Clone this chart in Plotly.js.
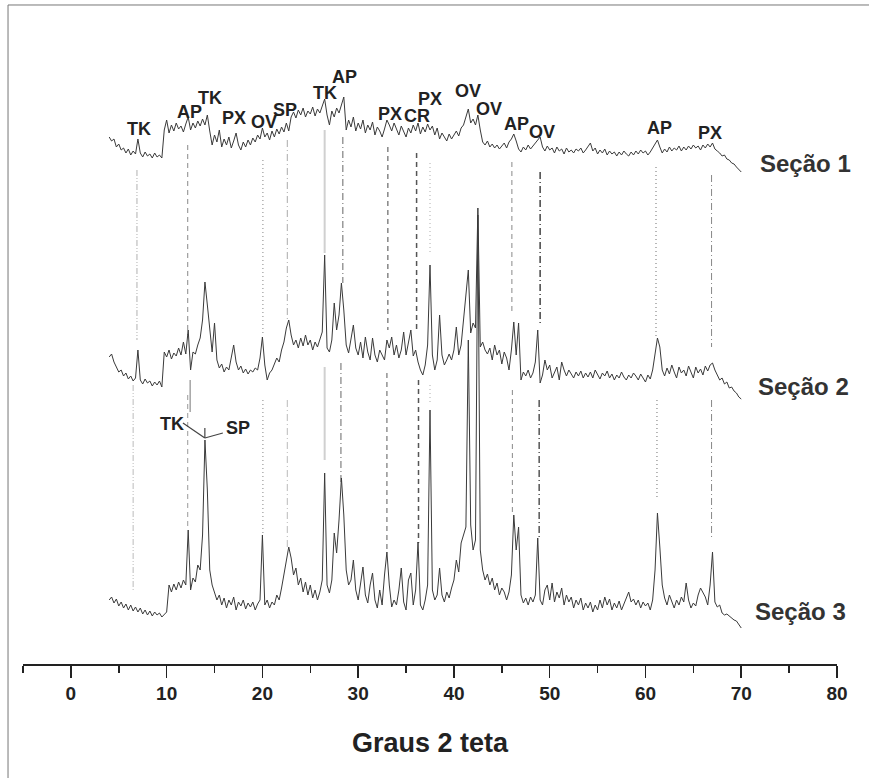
<!DOCTYPE html>
<html>
<head>
<meta charset="utf-8">
<script src="https://cdn.plot.ly/plotly-3.0.1.min.js"></script>
<style>html,body{margin:0;padding:0;background:#fff;}#chart{width:869px;height:778px;}</style>
</head>
<body>
<div id="chart"></div>
<script>
// Sampling grid of the diffractograms (degrees 2-theta)
const twoThetaStart = 4.0;
const twoThetaStep = 0.25;

// Section 1 intensities (arbitrary units), one value per grid step from 4.00 to 70.00
const secao1 = [
38,34,36,28,31,25,27,22,26,20,24,21,36,22,18,23,19,21,17,22,
18,20,17,45,55,42,50,44,52,46,49,43,51,58,45,52,47,54,49,56,
50,60,44,30,40,33,45,28,36,30,38,27,34,42,30,25,33,28,35,30,
37,33,40,36,47,38,42,35,44,38,46,41,48,43,52,44,58,63,57,65,
60,67,58,64,61,68,59,66,62,70,76,60,50,64,58,67,62,70,78,45,
55,48,58,44,52,46,55,42,50,45,53,40,48,44,38,46,55,50,44,52,
46,40,49,43,38,47,42,50,44,52,41,48,43,51,45,49,40,47,36,42,
38,34,41,36,40,44,39,47,50,58,66,52,56,50,60,45,33,30,34,28,
31,27,30,26,29,32,27,33,36,41,34,26,23,28,25,30,26,29,31,35,
38,28,24,29,25,27,22,28,24,26,21,27,23,25,22,26,24,27,22,25,
28,32,24,27,21,25,22,26,20,24,21,23,19,23,20,24,21,19,23,20,
24,21,25,22,24,20,23,27,30,35,28,22,26,23,28,24,27,25,29,24,
28,25,29,26,30,27,29,25,30,27,31,28,32,26,24,22,19,20,16,15,
12,11,8,5,3
];

// Section 2 intensities
const secao2 = [
43,46,38,33,28,30,24,27,21,24,19,22,50,20,16,21,17,19,14,18,
15,19,13,48,43,50,41,47,44,52,45,58,46,70,30,48,46,55,62,80,
118,95,70,48,77,40,32,36,28,33,30,42,55,38,30,34,27,31,26,30,
28,32,30,42,63,35,20,27,30,36,42,38,50,58,72,80,65,55,60,52,
62,54,65,55,60,50,58,53,60,68,145,52,48,60,97,70,85,117,90,55,
47,60,75,52,45,58,42,63,48,40,62,45,38,50,44,40,60,52,63,45,
55,42,50,68,45,58,70,44,50,38,30,25,35,55,135,45,30,40,85,45,
35,40,46,40,50,73,45,55,80,107,130,67,77,72,192,53,58,50,46,52,
40,55,45,50,36,48,42,30,50,78,45,77,20,28,24,30,22,27,38,70,
17,25,40,30,35,22,28,33,20,38,30,24,30,26,22,28,24,29,22,27,
23,28,22,30,25,21,27,24,29,22,26,20,25,22,28,23,20,25,22,27,
24,20,26,22,18,25,21,30,45,62,53,30,24,32,26,35,28,22,33,27,
30,24,34,28,22,33,27,31,25,34,29,35,37,30,24,20,22,16,18,12,
13,9,7,3,1
];

// Section 3 intensities
const secao3 = [
30,33,27,31,24,28,22,26,20,25,19,23,18,22,16,20,15,19,14,18,
15,17,13,16,18,45,38,46,40,48,42,50,45,100,40,52,48,65,60,95,
190,140,60,45,38,30,35,25,32,22,30,25,33,20,28,24,30,21,27,23,
28,20,26,30,95,25,30,22,28,25,35,30,42,55,68,83,72,55,62,45,
52,38,48,35,45,32,40,30,38,50,157,45,37,50,97,77,110,152,115,60,
45,50,70,40,30,45,63,35,27,45,57,30,22,40,25,55,78,45,23,30,
25,40,62,28,20,50,57,25,40,88,25,20,30,45,220,40,30,35,62,35,
28,38,32,42,50,70,58,87,95,103,290,105,80,90,415,80,60,50,56,45,
52,40,47,35,42,38,30,38,55,115,80,103,35,27,32,25,33,28,35,92,
30,25,40,45,30,47,28,38,32,42,25,35,28,33,22,30,25,32,20,27,
22,28,18,25,20,30,22,33,25,31,20,27,22,29,20,26,33,38,28,31,
25,30,22,28,24,27,20,30,60,117,83,45,32,25,35,28,22,30,25,33,
28,47,30,22,27,24,35,42,38,33,25,45,78,28,23,25,17,15,16,14,
12,10,9,5,2
];

const sectionNames = ["Seção 1", "Seção 2", "Seção 3"];
const xTickValues = [0, 10, 20, 30, 40, 50, 60, 70, 80];
const xTitle = "Graus 2 teta";

// Phase labels above section 1 and their 2-theta positions
const phaseLabels = ["TK","AP","TK","PX","OV","SP","TK","AP","PX","CR","PX","OV","OV","AP","OV","AP","PX"];
const phaseLabelX = [7.10,12.43,14.52,17.02,20.16,22.35,26.53,28.62,33.32,36.14,37.49,41.46,43.66,46.58,49.19,61.51,66.74];

// ---------- drawing ----------
const offsets = [489, 264, 34];          // vertical stacking of sections
const labelY = [535,552,566,546,542,554,571,587,550,548,565,573,555,540,532,536,531];

const x = secao1.map((_, i) => +(twoThetaStart + i * twoThetaStep).toFixed(2));
const series = [secao1, secao2, secao3];
const traces = series.map((s, k) => ({
  x: x,
  y: s.map(v => v + offsets[k]),
  type: 'scatter',
  mode: 'lines',
  line: {color: '#3a3a3a', width: 1},
  hoverinfo: 'skip',
  showlegend: false
}));

const DASH = {
  ddd: '6px,2px,1px,2px,1px,2px',
  dash: '5px,4px',
  dot: '1px,3px',
  dashdot: '7px,3px,1px,3px',
  solid: 'solid'
};
// phase marker segments: [2theta, top, bottom, style, color, width]
const segments = [
  [6.9, 494, 324, 'ddd', '#b0b0b0', 1],
  [12.2, 519, 329, 'dash', '#888', 1],
  [20.05, 504, 329, 'dot', '#999', 1.2],
  [22.6, 524, 344, 'dashdot', '#aaa', 1],
  [26.5, 534, 411, 'solid', '#d0d0d0', 2],
  [28.4, 527, 381, 'dashdot', '#666', 1],
  [33.1, 517, 334, 'dash', '#666', 1.2],
  [36.1, 511, 332, 'dash', '#555', 1.5],
  [37.5, 501, 411, 'dot', '#bbb', 1.2],
  [46.05, 502, 351, 'dash', '#888', 1],
  [49.0, 492, 341, 'dashdot', '#444', 1.5],
  [61.1, 497, 327, 'dot', '#888', 1.2],
  [66.9, 489, 317, 'dashdot', '#888', 1],
  [6.5, 279, 74, 'ddd', '#bbb', 1],
  [12.2, 269, 134, 'dash', '#999', 1],
  [12.45, 284, 252, 'solid', '#777', 1],
  [20.05, 264, 129, 'dot', '#999', 1.2],
  [22.6, 264, 116, 'dashdot', '#bbb', 1],
  [26.5, 297, 204, 'solid', '#d0d0d0', 2],
  [28.2, 301, 181, 'dashdot', '#666', 1],
  [33.0, 291, 111, 'dash', '#777', 1.2],
  [36.3, 284, 121, 'dash', '#555', 1.5],
  [37.5, 279, 259, 'dot', '#bbb', 1.2],
  [46.1, 274, 151, 'dash', '#888', 1],
  [48.9, 264, 127, 'dashdot', '#555', 1.5],
  [61.2, 264, 164, 'dot', '#888', 1.2],
  [66.9, 264, 124, 'dashdot', '#888', 1]
];

const shapes = segments.map(s => ({
  type: 'line', xref: 'x', yref: 'y',
  x0: s[0], x1: s[0], y0: s[1], y1: s[2],
  line: {color: s[4], width: s[5], dash: DASH[s[3]]},
  layer: 'below'
}));
// TK / SP pointer on section 3
shapes.push({type:'line', xref:'x', yref:'y', x0:11.70, y0:241, x1:13.99, y1:226, line:{color:'#444', width:1.2}});
shapes.push({type:'line', xref:'x', yref:'y', x0:13.99, y0:226, x1:15.87, y1:231, line:{color:'#444', width:1.2}});
shapes.push({type:'line', xref:'x', yref:'y', x0:13.99, y0:226, x1:13.99, y1:236, line:{color:'#444', width:1.2}});
// figure frame (top and left)
shapes.push({type:'line', xref:'paper', yref:'paper', x0:-0.0184, x1:1.05, y0:1.0233, y1:1.0233, line:{color:'#777', width:1}});
shapes.push({type:'line', xref:'paper', yref:'paper', x0:-0.0184, x1:-0.0184, y0:1.0233, y1:-0.2, line:{color:'#777', width:1}});

const labelFont = {family: 'Liberation Sans, Arial, sans-serif', size: 18, color: '#222', weight: 'bold'};
const annotations = phaseLabels.map((t, i) => ({
  text: t, x: phaseLabelX[i], y: labelY[i], xref: 'x', yref: 'y',
  showarrow: false, font: labelFont, borderpad: 0
}));
annotations.push({text: 'TK', x: 10.55, y: 240, xref:'x', yref:'y', showarrow:false, font: labelFont});
annotations.push({text: 'SP', x: 17.44, y: 236, xref:'x', yref:'y', showarrow:false, font: labelFont});
const secY = [501, 278, 53];
const secX = [76.76, 76.45, 76.14];
sectionNames.forEach((n, i) => annotations.push({
  text: n, x: secX[i], y: secY[i], xref: 'x', yref: 'y', showarrow: false,
  font: {family: 'Liberation Sans, Arial, sans-serif', size: 24, color: '#333', weight: 'bold'}
}));

const layout = {
  width: 869, height: 778,
  margin: {l: 23, r: 32, t: 20, b: 114},
  paper_bgcolor: '#fff', plot_bgcolor: '#fff',
  showlegend: false,
  xaxis: {
    range: [-5, 80], showgrid: false, zeroline: false,
    showline: true, linecolor: '#222', linewidth: 1.5,
    ticks: 'outside', ticklen: 12, tickwidth: 1.5, tickcolor: '#222',
    tickvals: xTickValues, ticktext: xTickValues.map(String),
    minor: {dtick: 5, tick0: -5, ticks: 'outside', ticklen: 7, tickwidth: 1.5, tickcolor: '#222', showgrid: false},
    tickfont: {family: 'Liberation Sans Narrow, Arial Narrow, Liberation Sans, Arial, sans-serif', size: 19, color: '#222', weight: 'bold'},
    title: {text: xTitle, standoff: 30,
      font: {family: 'Liberation Sans, Arial, sans-serif', size: 27, color: '#222', weight: 'bold'}},
    fixedrange: true
  },
  yaxis: {range: [0, 644], visible: false, showgrid: false, zeroline: false, fixedrange: true},
  shapes: shapes,
  annotations: annotations
};

Plotly.newPlot('chart', traces, layout, {staticPlot: true, displayModeBar: false});
</script>
</body>
</html>
